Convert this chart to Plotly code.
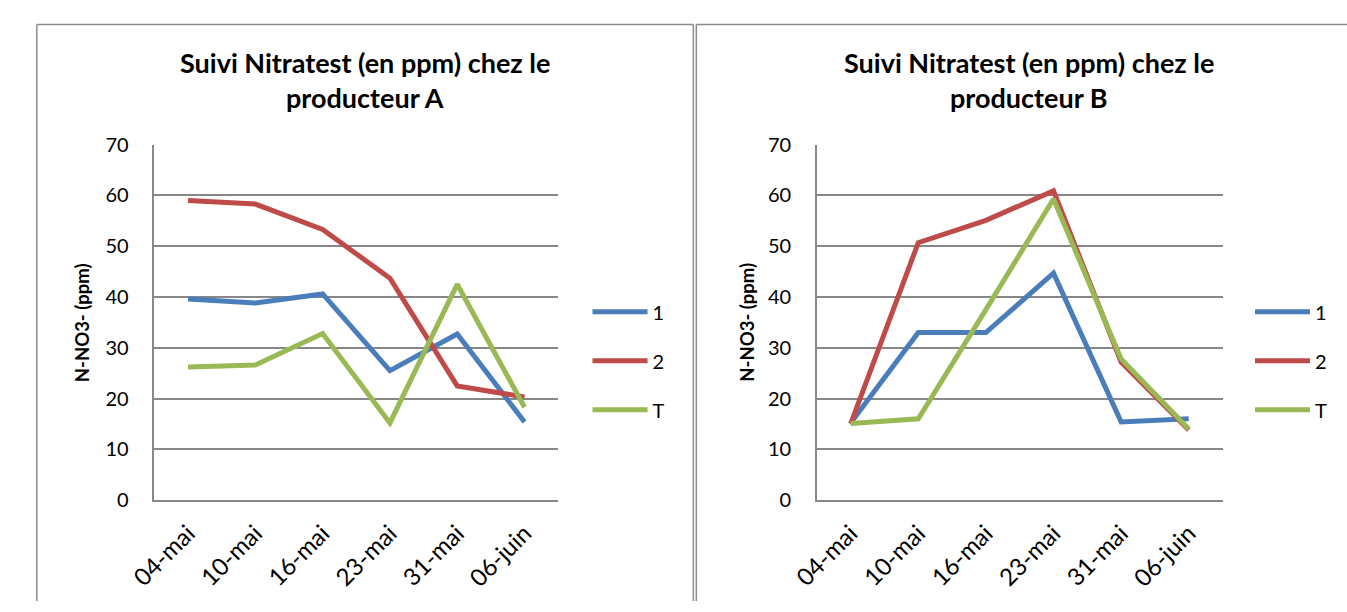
import plotly.graph_objects as go

# ---- data ----
dates = ["04-mai", "10-mai", "16-mai", "23-mai", "31-mai", "06-juin"]
series_names = ["1", "2", "T"]
prod_a_1 = [39.6, 38.8, 40.6, 25.5, 32.7, 15.4]
prod_a_2 = [59.0, 58.3, 53.3, 43.7, 22.5, 20.3]
prod_a_T = [26.2, 26.6, 32.8, 15.2, 42.5, 18.3]
prod_b_1 = [15.2, 33.0, 33.0, 44.7, 15.4, 16.0]
prod_b_2 = [15.0, 50.7, 55.1, 60.9, 27.2, 13.8]
prod_b_T = [15.1, 16.0, 37.5, 59.3, 27.8, 14.0]
title_a = ["Suivi Nitratest (en ppm) chez le", "producteur A"]
title_b = ["Suivi Nitratest (en ppm) chez le", "producteur B"]
y_title = "N-NO3- (ppm)"

colors = ["#4A7EBB", "#BE4B48", "#98B954"]
W, H = 1347, 612
FONT = "Lato"
GRID = "#878787"


def px(x):
    return x / W


def py(y):
    return 1 - y / H


fig = go.Figure()

for vals, name, col in zip([prod_a_1, prod_a_2, prod_a_T], series_names, colors):
    fig.add_trace(go.Scatter(x=dates, y=vals, mode="lines", name=name,
                             line=dict(color=col, width=5),
                             xaxis="x", yaxis="y", legend="legend",
                             legendgroup="a" + name))
for vals, name, col in zip([prod_b_1, prod_b_2, prod_b_T], series_names, colors):
    fig.add_trace(go.Scatter(x=dates, y=vals, mode="lines", name=name,
                             line=dict(color=col, width=5),
                             xaxis="x2", yaxis="y2", legend="legend2",
                             legendgroup="b" + name))

ydom = [py(507), py(137)]
common_x = dict(type="category", range=[-0.5, 5.5], showgrid=False,
                showline=True, linecolor=GRID, linewidth=1.5,
                tickangle=-45, ticks="", ticklabelstandoff=8,
                tickfont=dict(family=FONT, size=24, color="#000"))
common_y = dict(range=[0, 70], dtick=10, showgrid=True, gridcolor=GRID,
                gridwidth=1.5, showline=True, linecolor=GRID, linewidth=1.5,
                zeroline=False, ticks="", ticklabelstandoff=20,
                tickfont=dict(family=FONT, size=20, color="#000"), domain=ydom)

leg_common = dict(font=dict(family=FONT, size=20, color="#000"),
                  tracegroupgap=20, yanchor="middle", xanchor="left",
                  itemwidth=55,
                  bgcolor="rgba(0,0,0,0)", borderwidth=0)

fig.update_layout(
    width=W, height=H,
    margin=dict(l=0, r=0, t=0, b=0),
    paper_bgcolor="white", plot_bgcolor="white",
    xaxis=dict(domain=[px(130), px(542)], anchor="y", **common_x),
    yaxis=dict(anchor="x", **common_y),
    xaxis2=dict(domain=[px(806), px(1220)], anchor="y2", **common_x),
    yaxis2=dict(anchor="x2", **common_y),
    legend=dict(x=px(572), y=py(362), **leg_common),
    legend2=dict(x=px(1248), y=py(362), **leg_common),
    showlegend=True,
)

annotations = []
for cx, lines in [(345, title_a), (1023, title_b)]:
    for ly, txt in zip([52, 88], lines):
        annotations.append(dict(x=px(cx), y=py(ly), xref="paper", yref="paper",
                                text="<b>" + txt + "</b>", showarrow=False,
                                xanchor="center", yanchor="middle",
                                font=dict(family=FONT, size=27, color="#000")))
for cx in [57, 735]:
    annotations.append(dict(x=px(cx), y=py(322), xref="paper", yref="paper",
                            text="<b>" + y_title + "</b>", showarrow=False,
                            textangle=-90, xanchor="center", yanchor="middle",
                            font=dict(family=FONT, size=18.5, color="#000")))
fig.update_layout(annotations=annotations)

# panel borders
border = dict(color="#8C8C8C", width=1.5)
shapes = [
    dict(type="line", xref="paper", yref="paper", x0=px(10), x1=px(10), y0=0, y1=py(12), line=border),
    dict(type="line", xref="paper", yref="paper", x0=px(10), x1=px(680), y0=py(12), y1=py(12), line=border),
    dict(type="line", xref="paper", yref="paper", x0=px(680), x1=px(680), y0=0, y1=py(12), line=border),
    dict(type="line", xref="paper", yref="paper", x0=px(683), x1=px(683), y0=0, y1=py(12), line=border),
    dict(type="line", xref="paper", yref="paper", x0=px(683), x1=1, y0=py(12), y1=py(12), line=border),
]
fig.update_layout(shapes=shapes)

fig.write_html(
    "out.html",
    post_script="document.body.style.margin='0';document.body.style.padding='0';"
                "document.body.style.overflow='hidden';",
)
